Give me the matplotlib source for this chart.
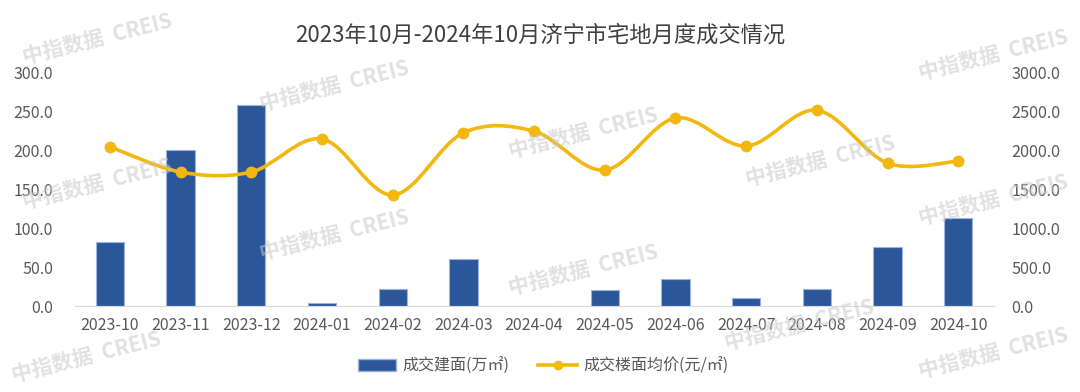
import matplotlib.pyplot as plt
import numpy as np
from matplotlib.path import Path
from matplotlib.patches import PathPatch
from matplotlib.lines import Line2D

plt.rcParams['font.family'] = ['Noto Sans CJK SC', 'DejaVu Sans']

months = ['2023-10', '2023-11', '2023-12', '2024-01', '2024-02', '2024-03', '2024-04',
          '2024-05', '2024-06', '2024-07', '2024-08', '2024-09', '2024-10']
area = [82.0, 201.0, 259.0, 4.0, 22.0, 60.5, 0.0, 21.0, 35.0, 10.0, 22.0, 76.0, 113.0]
price = [2050, 1725, 1725, 2150, 1430, 2230, 2250, 1750, 2420, 2060, 2520, 1840, 1865]

bar_color = '#2B579A'
line_color = '#F2B80F'
text_color = '#595959'

fig = plt.figure(figsize=(10.8, 3.92), dpi=100)
ax = fig.add_axes([0.069, 0.219, 0.851, 0.595])
ax2 = ax.twinx()

x = np.arange(len(months))
ax.bar(x, area, width=0.4, color=bar_color, edgecolor='#9DB3DD', linewidth=0.8, zorder=2)

# smooth line (bezier through the points, like Excel smoothing)
pts = np.column_stack([x, price]).astype(float)
verts = [pts[0]]
codes = [Path.MOVETO]
for i in range(len(pts) - 1):
    p0 = pts[i - 1] if i > 0 else pts[i]
    p1 = pts[i]
    p2 = pts[i + 1]
    p3 = pts[i + 2] if i + 2 < len(pts) else pts[i + 1]
    c1 = p1 + (p2 - p0) / 6.0
    c2 = p2 - (p3 - p1) / 6.0
    verts += [c1, c2, p2]
    codes += [Path.CURVE4] * 3
ax2.add_patch(PathPatch(Path(verts, codes), facecolor='none', edgecolor=line_color,
                        linewidth=2.6, zorder=3, capstyle='round'))
ax2.plot(x, price, linestyle='none', marker='o', markersize=7.5, color=line_color, zorder=4)

ax.set_xlim(-0.5, 12.5)
ax.set_ylim(0, 300)
ax2.set_ylim(0, 3000)
ax.set_yticks(np.arange(0, 301, 50))
ax.set_yticklabels([f'{v:.1f}' for v in np.arange(0, 301, 50)])
ax2.set_yticks(np.arange(0, 3001, 500))
ax2.set_yticklabels([f'{v:.1f}' for v in np.arange(0, 3001, 500)])
ax.set_xticks(x)
ax.set_xticklabels(months)

for a in (ax, ax2):
    for s in ('top', 'left', 'right'):
        a.spines[s].set_visible(False)
    a.spines['bottom'].set_color('#D9D9D9')
    a.tick_params(axis='both', length=0, labelsize=11.7, colors=text_color)
ax2.spines['bottom'].set_visible(False)
ax.tick_params(axis='y', labelsize=11.5, pad=15.5)
ax2.tick_params(axis='y', pad=13)
ax.tick_params(axis='x', labelsize=11.5, pad=8)

fig.text(0.5, 0.91, '2023年10月-2024年10月济宁市宅地月度成交情况', ha='center', va='center',
         fontsize=16, color='#404040')

# watermarks
marks = [(0.09, 0.90), (0.31, 0.78), (0.09, 0.53), (0.54, 0.66), (0.76, 0.59),
         (0.92, 0.86), (0.31, 0.40), (0.54, 0.31), (0.92, 0.49), (0.08, 0.09),
         (0.74, 0.17), (0.92, 0.10)]
for mx, my in marks:
    fig.text(mx, my, '中指数据  CREIS', ha='center', va='center', fontsize=15, rotation=14,
             color='#C8C8C8', alpha=0.55, fontweight='bold', zorder=10)

handles = [plt.Rectangle((0, 0), 1, 1, facecolor=bar_color, edgecolor='#9DB3DD'),
           Line2D([0], [0], color=line_color, linewidth=2.6, marker='o', markersize=6)]
fig.legend(handles, ['成交建面(万㎡)', '成交楼面均价(元/㎡)'], loc='center',
           bbox_to_anchor=(0.503, 0.066), ncol=2, frameon=False, fontsize=11.5,
           labelcolor=text_color, handlelength=2.4, handletextpad=0.4, columnspacing=1.8)

fig.savefig('out.png', dpi=100)
